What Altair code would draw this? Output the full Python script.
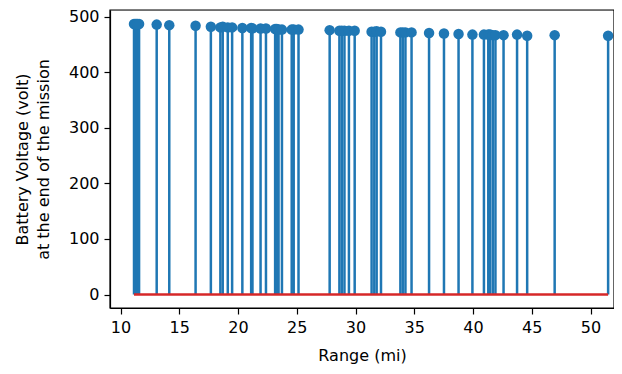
import altair as alt
import pandas as pd

ranges = [11.15, 11.25, 11.35, 11.45, 11.58, 13.08, 14.15, 16.39, 17.69, 18.50, 18.70, 19.13,
          19.50, 20.37, 21.12, 21.23, 21.92, 22.38, 23.16, 23.30, 23.45, 23.74, 24.57, 24.74,
          25.15, 27.80, 28.63, 28.83, 29.06, 29.44, 29.93, 31.37, 31.60, 31.80, 32.17, 33.82,
          34.02, 34.25, 34.77, 36.26, 37.53, 38.77, 39.95, 40.93, 41.30, 41.45, 41.68, 41.91,
          42.60, 43.75, 44.61, 46.95, 51.50]
voltages = [487, 487, 487, 487, 487, 486, 485, 484, 482, 481, 482, 481,
            481, 480, 480, 479, 479, 479, 478, 478, 477, 477, 477, 477,
            477, 476, 475, 475, 475, 475, 475, 473, 473, 474, 473, 472,
            472, 472, 472, 471, 470, 469, 468, 468, 468, 468, 467, 467,
            467, 468, 466, 467, 466]
x_ticks = [10, 15, 20, 25, 30, 35, 40, 45, 50]
y_ticks = [0, 100, 200, 300, 400, 500]

df = pd.DataFrame({"range": ranges, "volt": voltages, "zero": [0] * len(ranges)})
base_df = pd.DataFrame({"x1": [min(ranges)], "x2": [max(ranges)], "y": [0]})

W, H = 504, 298
FONT = "DejaVu Sans"
FS = 16
xscale = alt.Scale(domain=[9.106, 52.0], nice=False, zero=False)
yscale = alt.Scale(domain=[-24.3, 512.3], nice=False, zero=False)

common = dict(grid=False, tickSize=6, tickWidth=1.2, domainWidth=1.2, labelFont=FONT,
              titleFont=FONT, labelFontSize=FS, titleFontSize=FS, titleFontWeight="normal",
              labelColor="black", titleColor="black", domainColor="black",
              tickColor="black", labelFlush=False)
xaxis = alt.Axis(title="Range (mi)", values=x_ticks, labelPadding=5, titlePadding=12, **common)
yaxis = alt.Axis(title=["Battery Voltage (volt)", "at the end of the mission"], values=y_ticks,
                 labelPadding=5, titlePadding=17, titleLineHeight=21, **common)

stems = alt.Chart(df).mark_rule(color="#1f77b4", strokeWidth=2.5).encode(
    x=alt.X("range:Q", scale=xscale, axis=xaxis),
    y=alt.Y("zero:Q", scale=yscale, axis=yaxis),
    y2="volt:Q",
)
heads = alt.Chart(df).mark_circle(color="#1f77b4", size=110, opacity=1).encode(
    x=alt.X("range:Q", scale=xscale),
    y=alt.Y("volt:Q", scale=yscale),
)
baseline = alt.Chart(base_df).mark_rule(color="#d62728", strokeWidth=2.7).encode(
    x=alt.X("x1:Q", scale=xscale),
    x2="x2:Q",
    y=alt.Y("y:Q", scale=yscale),
)
frame = alt.Chart(base_df).mark_rect(fill=None, stroke="black", strokeWidth=1.2).encode(
    x=alt.value(0), x2=alt.value(W), y=alt.value(0), y2=alt.value(H),
)

chart = alt.layer(stems, baseline, heads, frame).properties(
    width=W, height=H,
    autosize=alt.AutoSizeParams(type="none"),
    padding={"left": 102, "top": 2, "right": 0, "bottom": 58},
).configure_view(stroke=None).configure(background="white")

chart.save("out.html", embed_options={"renderer": "svg", "actions": False})
